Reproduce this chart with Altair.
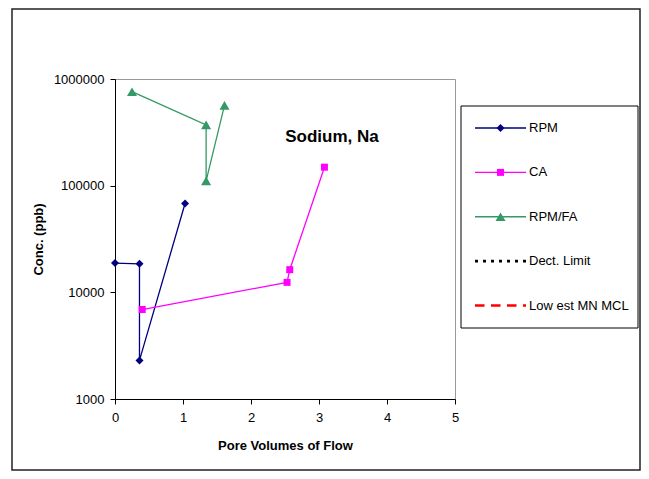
import altair as alt
import pandas as pd

# ---------------- data ----------------
series_names = ["RPM", "CA", "RPM/FA", "Dect. Limit", "Low est MN MCL"]
series_colors = ["#000080", "#FF00FF", "#339966", "#000000", "#FF0000"]

rpm_x = [0.0, 0.36, 0.36, 1.03]
rpm_y = [18800, 18500, 2300, 68000]

ca_x = [0.40, 2.53, 2.57, 3.08]
ca_y = [6900, 12400, 16300, 149000]

fa_x = [0.25, 1.34, 1.34, 1.61]
fa_y = [760000, 371000, 111000, 566000]

x_ticks = [0, 1, 2, 3, 4, 5]
y_ticks = [1000, 10000, 100000, 1000000]
panel_title = "Sodium, Na"
x_title = "Pore Volumes of Flow"
y_title = "Conc. (ppb)"

# ---------------- styles ----------------
FONT = "Liberation Sans"
marker_shapes = ["diamond", "square", "triangle-up"]
marker_sizes = [64, 49, 100]
legend_dashes = [[1, 0], [1, 0], [1, 0], [3, 5], [9.5, 6.5]]
legend_widths = [1.4, 1.4, 1.4, 2.6, 2.6]

rows = []
for name, xs, ys in [("RPM", rpm_x, rpm_y), ("CA", ca_x, ca_y), ("RPM/FA", fa_x, fa_y)]:
    for i, (xv, yv) in enumerate(zip(xs, ys)):
        rows.append({"series": name, "x": xv, "y": yv, "idx": i})
df = pd.DataFrame(rows)

legend_df = pd.DataFrame({
    "series": series_names,
    "li": list(range(len(series_names))),
    "lx0": 0.0, "lx1": 1.0, "lmid": 0.5,
})

xenc = alt.X(
    "x:Q",
    scale=alt.Scale(domain=[0, 5], nice=False, zero=False),
    axis=alt.Axis(values=x_ticks, title=x_title, tickSize=5, labelPadding=7,
                  titlePadding=15, labelFlush=False, grid=False),
)
yenc = alt.Y(
    "y:Q",
    scale=alt.Scale(type="log", domain=[1000, 1000000], nice=False),
    axis=alt.Axis(values=y_ticks, format="d", title=y_title, tickSize=5,
                  labelPadding=6, titlePadding=8, labelFlush=False, grid=False),
)
color_scale = alt.Scale(domain=series_names, range=series_colors)
shape_scale = alt.Scale(domain=series_names[:3], range=marker_shapes)
size_scale = alt.Scale(type="ordinal", domain=series_names[:3], range=marker_sizes)

base = alt.Chart(df)

lines = base.mark_line(strokeWidth=1.3).encode(
    x=xenc, y=yenc,
    color=alt.Color("series:N", scale=color_scale, legend=None),
    order="idx:Q",
)
points = base.mark_point(filled=True, opacity=1).encode(
    x=xenc, y=yenc,
    color=alt.Color("series:N", scale=color_scale, legend=None),
    shape=alt.Shape("series:N", scale=shape_scale, legend=None),
    size=alt.Size("series:N", scale=size_scale, legend=None),
)

deco = alt.Chart(pd.DataFrame({"a": [0]}))
frame = deco.mark_rect(fill="transparent", stroke="#222222", strokeWidth=1.5).encode(
    x=alt.value(-103), x2=alt.value(525), y=alt.value(-70), y2=alt.value(391)
)
title_text = alt.Chart(pd.DataFrame({"t": [panel_title]})).mark_text(
    font=FONT, fontSize=17, fontWeight="bold", color="black"
).encode(text="t:N", x=alt.value(217), y=alt.value(58))

main = alt.layer(frame, lines, points, title_text)

# ---------------- legend (built from the series list) ----------------
lx_scale = alt.Scale(domain=[0, 1], range=[360, 411])
ly_scale = alt.Scale(domain=[0, 4], range=[49, 226.5])
lbase = alt.Chart(legend_df)

legend_box = deco.mark_rect(fill="transparent", stroke="#000000", strokeWidth=1).encode(
    x=alt.value(346), x2=alt.value(523), y=alt.value(27), y2=alt.value(249)
)
leg_lines = lbase.mark_rule().encode(
    x=alt.X("lx0:Q", scale=lx_scale, axis=None), x2="lx1:Q",
    y=alt.Y("li:Q", scale=ly_scale, axis=None),
    color=alt.Color("series:N", scale=color_scale, legend=None),
    strokeDash=alt.StrokeDash("series:N", scale=alt.Scale(type="ordinal", domain=series_names, range=legend_dashes), legend=None),
    strokeWidth=alt.StrokeWidth("series:N", scale=alt.Scale(type="ordinal", domain=series_names, range=legend_widths), legend=None),
)
leg_pts = lbase.transform_filter(alt.datum.li < 3).mark_point(filled=True, opacity=1).encode(
    x=alt.X("lmid:Q", scale=lx_scale, axis=None),
    y=alt.Y("li:Q", scale=ly_scale, axis=None),
    color=alt.Color("series:N", scale=color_scale, legend=None),
    shape=alt.Shape("series:N", scale=shape_scale, legend=None),
    size=alt.Size("series:N", scale=size_scale, legend=None),
)
leg_text = lbase.mark_text(align="left", baseline="middle", dx=3, font=FONT,
                           fontSize=13, color="black").encode(
    x=alt.X("lx1:Q", scale=lx_scale, axis=None),
    y=alt.Y("li:Q", scale=ly_scale, axis=None),
    text="series:N",
)
legend_layer = alt.layer(legend_box, leg_lines, leg_pts, leg_text)

chart = alt.layer(main, legend_layer).resolve_scale(
    x="independent", y="independent"
).properties(
    width=340, height=320,
    padding={"left": 107, "top": 71, "right": 186, "bottom": 72},
    autosize=alt.AutoSizeParams(type="none"),
).configure_view(stroke="#999999", strokeWidth=1).configure_axis(
    labelFont=FONT, titleFont=FONT, labelFontSize=13, titleFontSize=13,
    titleFontWeight="bold", labelColor="black", titleColor="black",
    domainColor="black", tickColor="black", domainWidth=1, tickWidth=1,
)

chart.save("out.html", embed_options={"renderer": "svg", "actions": False})
